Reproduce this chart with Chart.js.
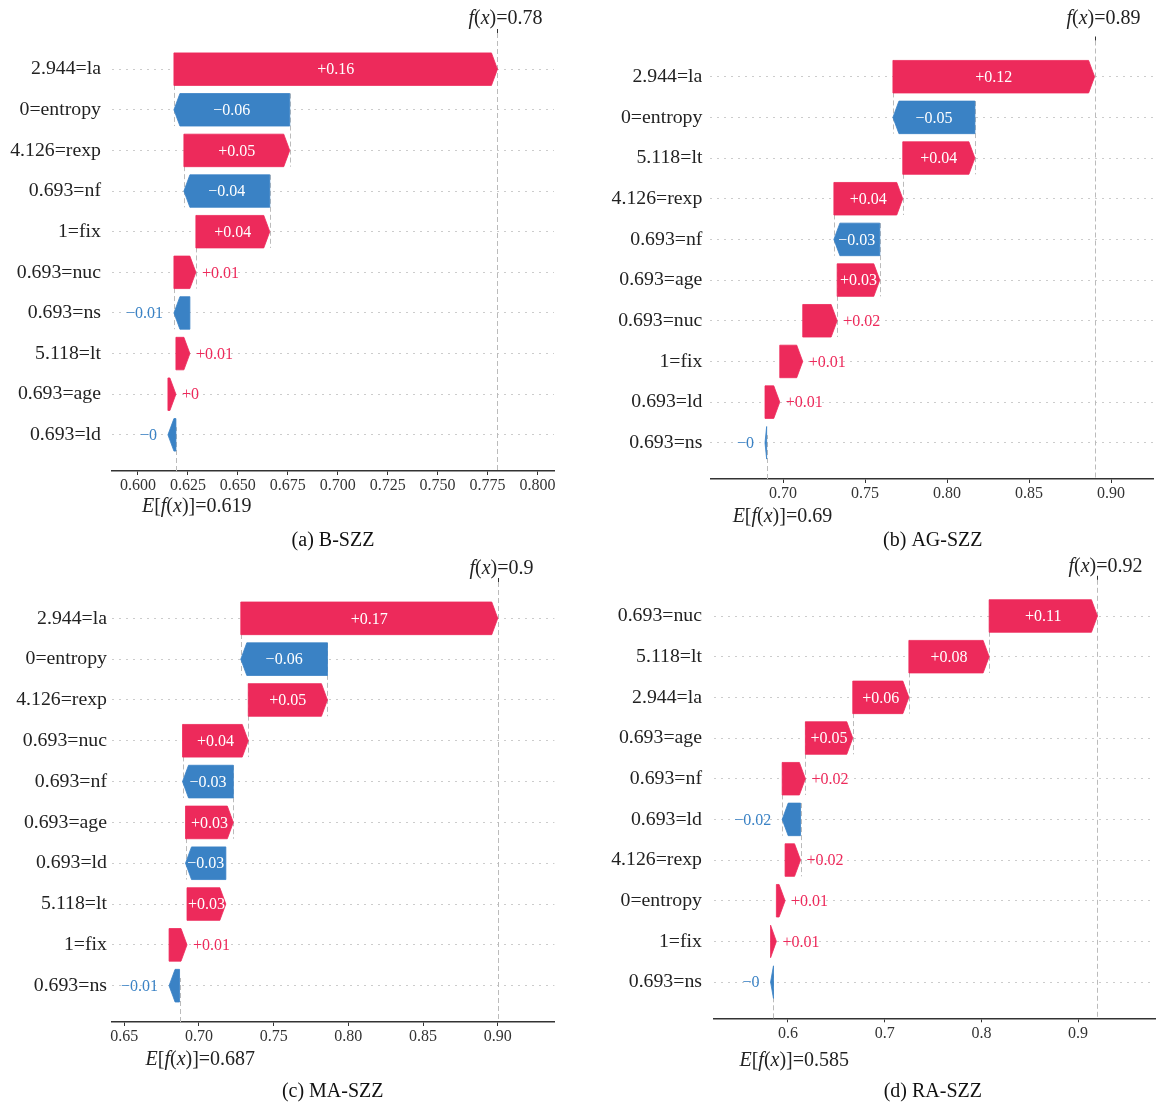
<!DOCTYPE html>
<html>
<head>
<meta charset="utf-8">
<title>SHAP waterfall plots for the SZZ variants</title>
<script src="https://cdn.jsdelivr.net/npm/chart.js@4.4.1/dist/chart.umd.min.js"></script>
<style>
  html, body { margin: 0; padding: 0; background: #fff; }
  #wrap { position: relative; width: 1156px; height: 1104px; }
  #wrap canvas { position: absolute; }
</style>
</head>
<body>
<div id="wrap">
  <canvas id="chartA" width="578" height="552" style="left:0;top:0"></canvas>
  <canvas id="chartB" width="578" height="552" style="left:578px;top:0"></canvas>
  <canvas id="chartC" width="578" height="552" style="left:0;top:552px"></canvas>
  <canvas id="chartD" width="578" height="552" style="left:578px;top:552px"></canvas>
</div>
<script>
// rows listed top to bottom, shap values in the same order
const titleA = '(a) B-SZZ';
const featuresA = ['2.944=la', '0=entropy', '4.126=rexp', '0.693=nf', '1=fix', '0.693=nuc', '0.693=ns', '5.118=lt', '0.693=age', '0.693=ld'];
const shapA = [0.162, -0.058, 0.053, -0.043, 0.037, 0.011, -0.008, 0.007, 0.004, -0.004];
const baseA = 0.619;
const ticksA = ['0.600', '0.625', '0.650', '0.675', '0.700', '0.725', '0.750', '0.775', '0.800'];

const titleB = '(b) AG-SZZ';
const featuresB = ['2.944=la', '0=entropy', '5.118=lt', '4.126=rexp', '0.693=nf', '0.693=age', '0.693=nuc', '1=fix', '0.693=ld', '0.693=ns'];
const shapB = [0.123, -0.050, 0.044, 0.042, -0.028, 0.026, 0.021, 0.014, 0.009, -0.001];
const baseB = 0.690;
const ticksB = ['0.70', '0.75', '0.80', '0.85', '0.90'];

const titleC = '(c) MA-SZZ';
const featuresC = ['2.944=la', '0=entropy', '4.126=rexp', '0.693=nuc', '0.693=nf', '0.693=age', '0.693=ld', '5.118=lt', '1=fix', '0.693=ns'];
const shapC = [0.172, -0.058, 0.053, 0.044, -0.034, 0.032, -0.027, 0.026, 0.012, -0.007];
const baseC = 0.687;
const ticksC = ['0.65', '0.70', '0.75', '0.80', '0.85', '0.90'];

const titleD = '(d) RA-SZZ';
const featuresD = ['0.693=nuc', '5.118=lt', '2.944=la', '0.693=age', '0.693=nf', '0.693=ld', '4.126=rexp', '0=entropy', '1=fix', '0.693=ns'];
const shapD = [0.112, 0.083, 0.058, 0.049, 0.024, -0.019, 0.016, 0.009, 0.006, -0.003];
const baseD = 0.585;
const ticksD = ['0.6', '0.7', '0.8', '0.9'];

const RED = '#ED2A5B';
const BLUE = '#3A82C5';
const LINE = '#bbbbbb';
const INK = '#222';
const SERIF = '"Liberation Serif", "Times New Roman", serif';
const HEAD = 6;          // arrow head length in px
const ROW_PAD = 0.89;    // y range beyond first/last row

Chart.defaults.font.family = SERIF;
Chart.defaults.color = INK;

// shap-style number formatting: fixed digits, trailing zeros dropped, true minus sign
function fmtValue(v, digits, signed) {
  let s = v.toFixed(digits).replace(/\.?0+$/, '');
  if (signed && v >= 0) s = '+' + s;
  return s.replace('-', '\u2212');
}

// stack the contributions from the bottom row up, starting at E[f(x)]
function cumulate(base, vals) {
  const bars = new Array(vals.length);
  let loc = base;
  for (let i = vals.length - 1; i >= 0; i--) {
    bars[i] = [loc, loc + vals[i]];
    loc += vals[i];
  }
  return { bars, fx: loc };
}

function drawMath(ctx, parts, x, y, size) {
  ctx.textAlign = 'left';
  ctx.textBaseline = 'alphabetic';
  parts.forEach(([t, italic]) => {
    ctx.font = (italic ? 'italic ' : '') + size + 'px ' + SERIF;
    ctx.fillText(t, x, y);
    x += ctx.measureText(t).width;
  });
}

function dashed(ctx, x, y0, y1) {
  ctx.beginPath();
  ctx.moveTo(x, y0);
  ctx.lineTo(x, y1);
  ctx.stroke();
}

const waterfallPlugin = {
  id: 'waterfall',
  beforeDatasetsDraw(chart, args, opts) {
    const { ctx, chartArea: a, scales: { x, y } } = chart;
    const p = opts.panel;
    const n = p.shap.length;
    ctx.save();
    ctx.strokeStyle = LINE;
    ctx.lineWidth = 1;
    ctx.setLineDash([5, 3]);
    // connectors between the upper rows
    p.bars.forEach((b, i) => {
      if (i + 4 >= n) return;
      const px = Math.round(x.getPixelForValue(b[0])) + 0.5;
      dashed(ctx, px, y.getPixelForValue(i - 0.4), y.getPixelForValue(i + 1.4));
    });
    const fxPx = Math.round(x.getPixelForValue(p.fx)) + 0.5;
    dashed(ctx, fxPx, a.top, a.bottom);
    const basePx = Math.round(x.getPixelForValue(p.base)) + 0.5;
    dashed(ctx, basePx, a.bottom, a.bottom - (a.bottom - a.top) / n);
    ctx.restore();
  },
  afterDatasetsDraw(chart, args, opts) {
    const { ctx } = chart;
    const p = opts.panel;
    const meta = chart.getDatasetMeta(0);
    ctx.save();
    meta.data.forEach((el, i) => {
      const v = p.shap[i];
      const { x: ex, base, y: cy, height } = el.getProps(['x', 'base', 'y', 'height'], true);
      const L = Math.min(ex, base), R = Math.max(ex, base);
      const w = R - L;
      const hl = Math.min(w, HEAD);
      const t = cy - height / 2, b = cy + height / 2;
      const col = v >= 0 ? RED : BLUE;
      ctx.fillStyle = col;
      ctx.strokeStyle = col;
      ctx.lineWidth = 0.8;
      ctx.lineJoin = 'round';
      ctx.beginPath();
      if (v >= 0) {
        ctx.moveTo(L, t); ctx.lineTo(R - hl, t); ctx.lineTo(R, cy); ctx.lineTo(R - hl, b); ctx.lineTo(L, b);
      } else {
        ctx.moveTo(R, t); ctx.lineTo(L + hl, t); ctx.lineTo(L, cy); ctx.lineTo(L + hl, b); ctx.lineTo(R, b);
      }
      ctx.closePath();
      ctx.fill();
      ctx.stroke();

      // value label: inside when it fits, else next to the tip
      const txt = fmtValue(v, 2, true);
      ctx.font = '16px ' + SERIF;
      ctx.textBaseline = 'middle';
      const tw = ctx.measureText(txt).width;
      if (tw <= w + 1) {
        ctx.fillStyle = '#fff';
        ctx.textAlign = 'center';
        ctx.fillText(txt, (L + R) / 2, cy + 1);
      } else if (v >= 0) {
        ctx.fillStyle = col;
        ctx.textAlign = 'left';
        ctx.fillText(txt, R + 6, cy + 1);
      } else {
        ctx.fillStyle = col;
        ctx.textAlign = 'right';
        ctx.fillText(txt, L - 11, cy + 1);
      }
    });
    ctx.restore();
  },
  afterDraw(chart, args, opts) {
    const { ctx, chartArea: a, scales: { x } } = chart;
    const p = opts.panel;
    const lay = p.layout;
    const fxPx = Math.round(x.getPixelForValue(p.fx)) + 0.5;
    const basePx = x.getPixelForValue(p.base);
    ctx.save();
    // small tick above the f(x) line
    ctx.strokeStyle = '#333';
    ctx.lineWidth = 1;
    ctx.beginPath();
    ctx.moveTo(fxPx, a.top - 4);
    ctx.lineTo(fxPx, a.top);
    ctx.stroke();

    ctx.fillStyle = INK;
    drawMath(ctx, [['f', true], ['(', false], ['x', true], [')=' + fmtValue(p.fx, 3, false), false]],
      fxPx - 29, lay.fBase, 20);
    drawMath(ctx, [['E', true], ['[', false], ['f', true], ['(', false], ['x', true], [')]=' + fmtValue(p.base, 3, false), false]],
      basePx - 34, lay.eBase, 20);

    ctx.fillStyle = '#111';
    ctx.font = '20px ' + SERIF;
    ctx.textAlign = 'center';
    ctx.textBaseline = 'alphabetic';
    ctx.fillText(p.title, lay.capX, lay.capBase);
    ctx.restore();
  }
};

function makePanel(id, title, features, shap, base, ticks, layout) {
  const canvas = document.getElementById(id);
  const W = canvas.width, H = canvas.height;
  const { bars, fx } = cumulate(base, shap);
  const tickVals = ticks.map(Number);
  const panel = { title, shap, base, bars, fx, layout };
  const n = features.length;

  return new Chart(canvas, {
    type: 'bar',
    data: {
      datasets: [{
        data: bars.map((b, i) => ({ x: b, y: i })),
        backgroundColor: 'rgba(0,0,0,0)',
        borderWidth: 0,
        barPercentage: 0.8,
        categoryPercentage: 1
      }]
    },
    options: {
      indexAxis: 'y',
      responsive: false,
      animation: false,
      events: [],
      layout: { padding: { left: 0, top: layout.top, right: W - layout.right, bottom: 0 } },
      plugins: {
        legend: { display: false },
        tooltip: { enabled: false },
        waterfall: { panel }
      },
      scales: {
        x: {
          type: 'linear',
          min: layout.xMin,
          max: layout.xMax,
          afterFit: s => { s.height = H - layout.bottom; },
          afterBuildTicks: s => { s.ticks = tickVals.map(v => ({ value: v })); },
          ticks: {
            callback: (v, i) => ticks[i],
            autoSkip: false,
            maxRotation: 0,
            padding: 1.4,
            color: '#333',
            font: { size: 16 }
          },
          grid: { display: true, drawOnChartArea: false, drawTicks: true, tickLength: 4, tickColor: '#333', tickWidth: 1 },
          border: { display: true, color: '#333', width: 1.5 }
        },
        y: {
          type: 'linear',
          reverse: true,
          offset: false,
          min: -ROW_PAD,
          max: n - 1 + ROW_PAD,
          afterFit: s => { s.width = layout.left; },
          afterBuildTicks: s => { s.ticks = features.map((_, i) => ({ value: i })); },
          ticks: {
            callback: v => features[v],
            autoSkip: false,
            padding: layout.labelPad,
            color: INK,
            font: { size: 19.8 }
          },
          grid: { display: true, offset: false, color: '#cccccc', lineWidth: 1, drawTicks: false },
          border: { display: false, dash: [2, 5] }
        }
      }
    },
    plugins: [waterfallPlugin]
  });
}

makePanel('chartA', titleA, featuresA, shapA, baseA, ticksA,
  { left: 112, right: 554, top: 33, bottom: 471, xMin: 0.587, xMax: 0.8083, labelPad: 11, fBase: 23.5, eBase: 512, capX: 333, capBase: 546 });
makePanel('chartB', titleB, featuresB, shapB, baseB, ticksB,
  { left: 132.4, right: 575, top: 40.5, bottom: 479, xMin: 0.6557, xMax: 0.9256, labelPad: 8, fBase: 23.5, eBase: 522, capX: 354.8, capBase: 546 });
makePanel('chartC', titleC, featuresC, shapC, baseC, ticksC,
  { left: 112, right: 554.4, top: 30, bottom: 470, xMin: 0.6418, xMax: 0.9379, labelPad: 5, fBase: 22, eBase: 513, capX: 332.7, capBase: 545 });
makePanel('chartD', titleD, featuresD, shapD, baseD, ticksD,
  { left: 136, right: 577, top: 27.8, bottom: 466.3, xMin: 0.5235, xMax: 0.9795, labelPad: 12, fBase: 20, eBase: 513.7, capX: 354.8, capBase: 545 });
</script>
</body>
</html>
